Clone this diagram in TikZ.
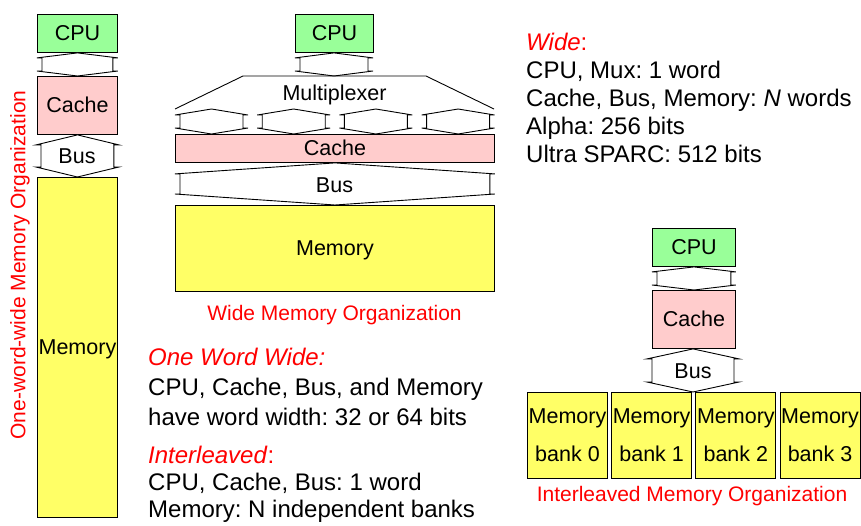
\documentclass[tikz,border=0pt]{standalone}
\usepackage{fontspec}
\setmainfont{Liberation Sans}
\usetikzlibrary{calc}
\frenchspacing

\definecolor{cpugreen}{RGB}{153,255,153}
\definecolor{cachepink}{RGB}{255,204,204}
\definecolor{memyellow}{RGB}{255,255,102}
\definecolor{capred}{RGB}{255,0,0}

% double-headed bus between two corners: [tick] upper-left, lower-right, head
\newcommand{\buslink}[4][5]{%
  \draw[link] let \p1=#2, \p2=#3 in
    ({(\x1+\x2)/2},\y1) -- (\x1,\y1-#4pt) -- (\x1+#1pt,\y1-#4pt)
    -- (\x1+#1pt,\y2+#4pt) -- (\x1,\y2+#4pt) -- ({(\x1+\x2)/2},\y2)
    -- (\x2,\y2+#4pt) -- (\x2-#1pt,\y2+#4pt) -- (\x2-#1pt,\y1-#4pt)
    -- (\x2,\y1-#4pt) -- cycle;}

\tikzset{
  block/.style={draw, line width=0.9pt, inner sep=0pt, anchor=north west,
    text height=15pt, text depth=0pt, font=\fontsize{21.5}{25}\selectfont},
  link/.style={fill=white, line width=0.9pt, line join=miter},
  tag/.style={inner sep=0pt, font=\fontsize{21.5}{25}\selectfont},
  orgcap/.style={capred, inner sep=0pt, font=\fontsize{21}{25}\selectfont},
  note/.style={anchor=west, align=left, inner sep=0pt,
    font=\fontsize{24}{28}\selectfont}
}

\begin{document}
\begin{tikzpicture}[x=1pt,y=-1pt]
\useasboundingbox (0,0) rectangle (861,525);

% one word wide
\node[block, fill=cpugreen, minimum width=80pt, minimum height=38pt] (cpuA) at (37,14) {CPU};
\node[block, fill=cachepink, minimum width=80pt, minimum height=58pt] (cacheA) at (37,76) {Cache};
\node[block, fill=memyellow, minimum width=80pt, minimum height=340pt] (memA) at (37,177) {Memory};
\buslink{(cpuA.south west)}{(cacheA.north east)}{5}
\buslink{($(cacheA.south west)+(-1,0)$)}{($(memA.north east)+(1,0)$)}{10}
\node[tag] (busA) at (77,156) {Bus};
\node[orgcap, rotate=90] (orgA) at (20,265) {One-word-wide Memory Organization};

% wide
\node[block, fill=cpugreen, minimum width=78pt, minimum height=38pt] (cpuB) at (295,14) {CPU};
\buslink{(cpuB.south west)}{(373,76)}{5}
\draw[line width=0.9pt] (175,109) -- (243,76) -- (426,76) -- (494,109);
\node[tag] (mux) at (334.5,95) {Multiplexer};
\node[block, fill=cachepink, minimum width=319pt, minimum height=28pt] (cacheB) at (175,134) {Cache};
\foreach \i in {0,...,3}
  \buslink{(175+\i*82.2,109)}{(248+\i*82.2,134)}{6};
\node[block, fill=memyellow, minimum width=319pt, minimum height=86pt] (memB) at (175,205) {Memory};
\buslink{(cacheB.south west)}{(memB.north east)}{11}
\node[tag] (busB) at (334.5,185) {Bus};
\node[orgcap] (orgB) at (334.5,315) {Wide Memory Organization};

% interleaved
\node[block, fill=cpugreen, minimum width=83pt, minimum height=38pt] (cpuC) at (652,228) {CPU};
\node[block, fill=cachepink, minimum width=83pt, minimum height=58pt] (cacheC) at (652,290) {Cache};
\buslink{(cpuC.south west)}{(cacheC.north east)}{5}
\foreach \i in {0,...,3}
  \node[block, fill=memyellow, minimum width=80pt, minimum height=86pt, align=center,
    text height=, text depth=, font=\fontsize{21.5}{38}\selectfont] (bank\i) at (527+\i*84.2,392) {Memory\\bank \i};
\buslink{($(cacheC.south west)+(-5,0)$)}{(739,392)}{10}
\node[tag] (busC) at (693,371) {Bus};
\node[orgcap] (orgC) at (692,496) {Interleaved Memory Organization};

% notes
\node[note] (noteWide) at (526,97.5) {\textcolor{capred}{\textit{Wide}:}\\
  CPU, Mux: 1 word\\Cache, Bus, Memory: \textit{N} words\\
  Alpha: 256 bits\\Ultra SPARC: 512 bits};
\node[note, font=\fontsize{24}{30}\selectfont] (noteOne) at (148,387) {\textcolor{capred}{\textit{One Word Wide:}}\\
  CPU, Cache, Bus, and Memory\\have word width: 32 or 64 bits};
\node[note, font=\fontsize{24}{27}\selectfont] (noteInter) at (148,484) {\textcolor{capred}{\textit{Interleaved}:}\\
  CPU, Cache, Bus: 1 word\\Memory: N independent banks};
\end{tikzpicture}
\end{document}
